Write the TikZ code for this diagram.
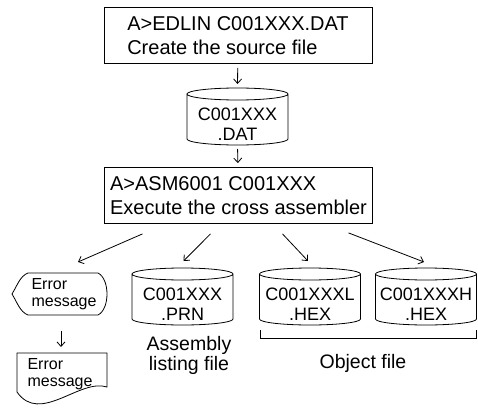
\documentclass[tikz,border=0pt]{standalone}
\usepackage{fontspec}
\setmainfont{Liberation Sans}
\usetikzlibrary{arrows.meta}

\begin{document}
\begin{tikzpicture}[
   x=1pt,y=-1pt,
   line width=0.8pt,
   >={Straight Barb[length=4.5pt,width=8pt]},
   box/.style={draw,align=left,minimum width=268pt,minimum height=56pt,font=\fontsize{20}{24}\selectfont},
   disk/.style={inner sep=0pt,align=center,font=\fontsize{18}{20}\selectfont},
   err/.style={align=left,inner sep=0pt,font=\fontsize{16}{17.5}\selectfont},
   lbl/.style={align=center,font=\fontsize{19.5}{20}\selectfont},
   to/.style={->,shorten >=4pt,shorten <=4pt}]
\useasboundingbox (0,0) rectangle (478,409);
\node[box] (S) at (238,35.5) {A>EDLIN C001XXX.DAT\\Create the source file};
\node[disk] (D) at (237.5,124) {C001XXX\\.DAT};
\node[box] (M) at (238.5,195.5) {A>ASM6001 C001XXX\\Execute the cross assembler};
\node[err] (E1) at (64,294) {Error\\message};
\node[err] (E2) at (60,374) {Error\\message};
\node[disk] (P) at (182.5,304) {C001XXX\\.PRN};
\node[disk] (L) at (310,304) {C001XXXL\\.HEX};
\node[disk] (H) at (426,304) {C001XXXH\\.HEX};
\node[lbl] (PL) at (189,355) {Assembly\\listing file};
\node[lbl] (OL) at (363,363) {Object file};
\foreach \n in {D,P,L,H}
  \draw ([shift={(-50.5,-30)}]\n.center) -- ([shift={(-50.5,15)}]\n.center) arc[start angle=180,end angle=360,x radius=50.5pt,y radius=6pt] -- ([shift={(50.5,-30)}]\n.center) arc[start angle=0,end angle=360,x radius=50.5pt,y radius=6pt];
\draw (E1) ++(-36,-21) -- ++(70,0) .. controls +(12,6) and +(12,-6) .. ++(0,42) -- ++(-70,0) .. controls +(-8,-3) and +(5,8) .. ++(-16,-21) .. controls +(5,-8) and +(-8,3) .. ++(16,-21) -- cycle;
\draw (E2) ++(-43,-21) -- ++(90,0) -- ++(0,34) .. controls +(-27,-9) and +(23,33) .. ++(-90,5) -- cycle;
\draw[to] (S) -- ([shift={(0,-36)}]D.center);
\draw[to] ([shift={(0,21)}]D.center) -- (M);
\draw[->] ([shift={(-96,10)}]M.south) -- ([shift={(14,-32)}]E1.center);
\draw[->] ([shift={(-28,10)}]M.south) -- ([shift={(1,-43)}]P.center);
\draw[->] ([shift={(44,10)}]M.south) -- ([shift={(-2,-43)}]L.center);
\draw[->] ([shift={(110,9)}]M.south) -- ([shift={(-2,-42)}]H.center);
\draw[->] ([shift={(-3,37)}]E1.center) -- ([shift={(1,-27)}]E2.center);
\draw ([shift={(-50,26)}]L.center) -- ++(0,8) -| ([shift={(50,26)}]H.center);
\end{tikzpicture}
\end{document}
